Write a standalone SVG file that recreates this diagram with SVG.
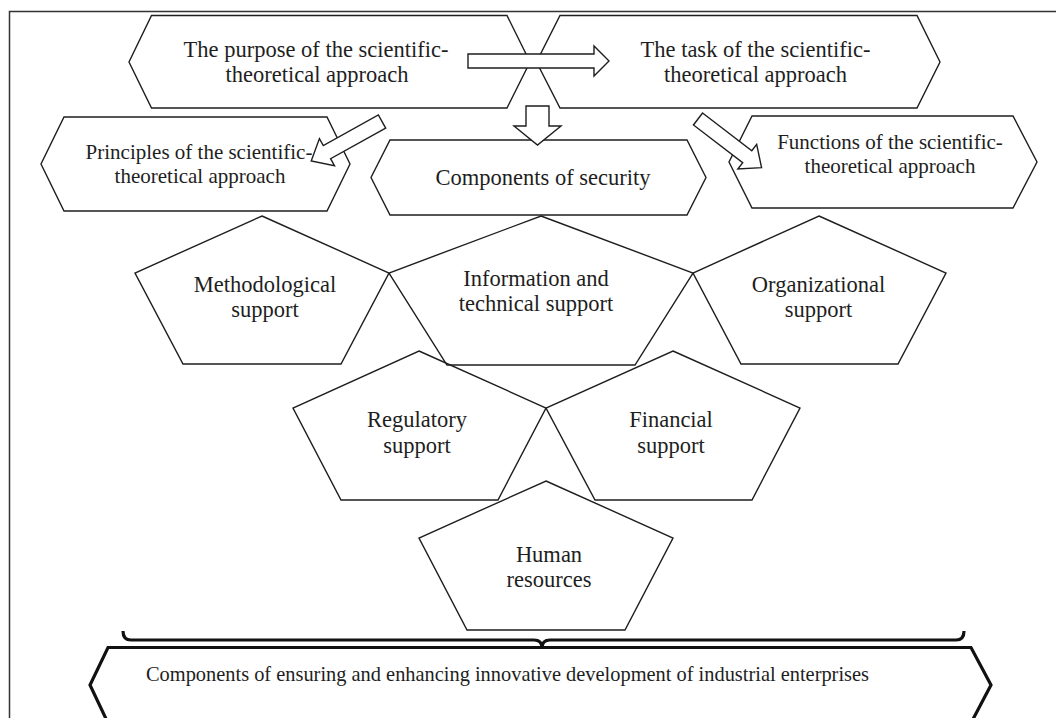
<svg xmlns="http://www.w3.org/2000/svg" width="1056" height="718" viewBox="0 0 1056 718">
<style>
.sh{fill:none;stroke:#1e1e1e;stroke-width:1.4;stroke-linejoin:miter}
.ar{fill:#fff;stroke:#1e1e1e;stroke-width:1.4;stroke-linejoin:miter}
.t{font-family:"Liberation Serif","Times New Roman",serif;fill:#1e1e1e;text-anchor:middle}
.top{font-size:22.5px}
.mid{font-size:21px}
.pen{font-size:22.5px}
.thick{fill:none;stroke:#111;stroke-width:3.2;stroke-linejoin:miter}
</style>
<rect width="1056" height="718" fill="#fff"/>
<path d="M9.5,718 V11.5 H1056" fill="none" stroke="#333" stroke-width="1.5"/>

<g id="purpose">
<polygon class="sh" points="151.5,15.5 507,15.5 530,62 507,108 151.5,108 129,62"/>
<text class="t top" x="316" y="57">The purpose of the scientific-</text>
<text class="t top" x="317" y="82">theoretical approach</text>
</g>
<g id="task">
<polygon class="sh" points="560,15.5 917,15.5 940,62 917,108 560,108 536.5,62"/>
<text class="t top" x="755.5" y="57">The task of the scientific-</text>
<text class="t top" x="755.5" y="82">theoretical approach</text>
</g>
<g id="principles">
<polygon class="sh" points="64,117 327,117 350,164 327,211 64,211 41,164"/>
<text class="t mid" x="199" y="159">Principles of the scientific-</text>
<text class="t mid" x="200" y="183">theoretical approach</text>
</g>
<g id="components">
<polygon class="sh" points="390,140 687,140 706,177.5 687,215 390,215 371,177.5"/>
<text class="t top" x="543" y="185">Components of security</text>
</g>
<g id="functions">
<polygon class="sh" points="752,116 1013,116 1037,162 1013,208 752,208 729,162"/>
<text class="t mid" x="890" y="149">Functions of the scientific-</text>
<text class="t mid" x="890" y="173">theoretical approach</text>
</g>

<g id="methodological">
<polygon class="sh" points="262,216 389,273 341,364 183,364 135,273"/>
<text class="t pen" x="265" y="292">Methodological</text>
<text class="t pen" x="265" y="317">support</text>
</g>
<g id="information">
<polygon class="sh" points="541,216 693,273 635,365 447,365 389,273"/>
<text class="t pen" x="536" y="286">Information and</text>
<text class="t pen" x="536" y="311">technical support</text>
</g>
<g id="organizational">
<polygon class="sh" points="819,216 946,273 898,364 741,364 693,273"/>
<text class="t pen" x="818.5" y="292">Organizational</text>
<text class="t pen" x="818.5" y="317">support</text>
</g>
<g id="regulatory">
<polygon class="sh" points="419,351 546,408 498,500 341,500 293,408"/>
<text class="t pen" x="417" y="427">Regulatory</text>
<text class="t pen" x="417" y="453">support</text>
</g>
<g id="financial">
<polygon class="sh" points="673,351 800,408 752,500 595,500 546,408"/>
<text class="t pen" x="671" y="427">Financial</text>
<text class="t pen" x="671" y="453">support</text>
</g>
<g id="human">
<polygon class="sh" points="546,481 673,538 625,630 467,630 419,538"/>
<text class="t pen" x="549" y="562">Human</text>
<text class="t pen" x="549" y="587">resources</text>
</g>

<g id="enhancing">
<polygon class="thick" points="108,647.5 971,647.5 991,685 971,723 108,723 90,685"/>
<text class="t" style="text-anchor:start;font-size:20.4px" x="146" y="681" textLength="723" lengthAdjust="spacingAndGlyphs">Components of ensuring and enhancing innovative development of industrial enterprises</text>
</g>

<g id="connectors">
<polygon class="ar" points="468,54 594,54 594,46 609,61 594,76 594,68 468,68"/>
<polygon class="ar" points="526,106 549,106 549,126 561,126 537.5,145 514,126 526,126"/>
<polygon class="ar" transform="translate(382,121.5) rotate(150.9)" points="0,-7.5 63,-7.5 63,-15.5 81,0 63,15.5 63,7.5 0,7.5"/>
<polygon class="ar" transform="translate(698,119) rotate(37.4)" points="0,-7.5 62,-7.5 62,-15.5 80,0 62,15.5 62,7.5 0,7.5"/>
<path class="thick" d="M123,631 Q123,640 131,640 H534 Q542,640 542,648 Q542,640 550,640 H956 Q964,640 964,631"/>
</g>
</svg>
